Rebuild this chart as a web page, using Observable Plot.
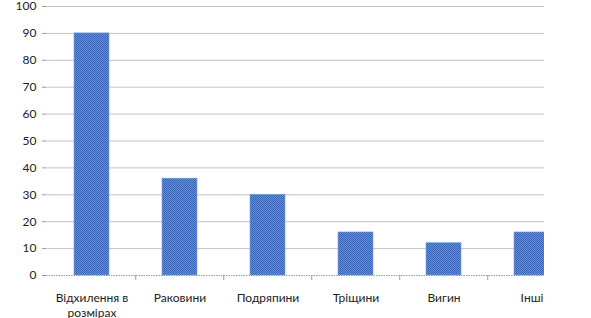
<!DOCTYPE html>
<html>
<head>
<meta charset="utf-8">
<script src="https://cdn.jsdelivr.net/npm/d3@7"></script>
<script src="https://cdn.jsdelivr.net/npm/@observablehq/plot@0.6"></script>
<style>
  html, body { margin: 0; padding: 0; background: #fff; }
  #wrap { width: 544px; height: 318px; overflow: hidden; }
  #wrap svg { display: block; max-width: none !important; width: 591px; height: 318px; overflow: visible; }
</style>
</head>
<body>
<div id="wrap"></div>
<script>
const categories = ["Відхилення в розмірах", "Раковини", "Подряпини", "Тріщини", "Вигин", "Інші"];
const values = [90, 36, 30, 16, 12, 16];
const tickLabels = ["Відхилення в\nрозмірах", "Раковини", "Подряпини", "Тріщини", "Вигин", "Інші"];
const yTicks = [0, 10, 20, 30, 40, 50, 60, 70, 80, 90, 100];

const data = categories.map((c, i) => ({category: c, value: values[i]}));
const labelOf = new Map(categories.map((c, i) => [c, tickLabels[i]]));

const W = 591, H = 318, ML = 46, MR = 14, MT = 6, MB = 43;
const halfStep = (W - ML - MR) / categories.length / 2;

const chart = Plot.plot({
  width: W,
  height: H,
  marginLeft: ML,
  marginRight: MR,
  marginTop: MT,
  marginBottom: MB,
  style: {fontFamily: "Lato, 'Open Sans', sans-serif", fontSize: "12px", color: "#222", background: "#fff", overflow: "visible"},
  x: {domain: categories, paddingInner: 0.6, paddingOuter: 0.3, align: 0.5},
  y: {domain: [0, 100], ticks: yTicks},
  marks: [
    Plot.ruleY(yTicks.filter(d => d > 0), {stroke: "#c4c4c4", strokeWidth: 1}),
    Plot.barY(data, {x: "category", y: "value", fill: "url(#hatch)", stroke: "#6f9ee2", strokeWidth: 0.6}),
    Plot.ruleY([0], {stroke: "#9a9a9a", strokeWidth: 1, strokeDasharray: "1.5,1"}),
    Plot.ruleX([0], {frameAnchor: "left", stroke: "#c4c4c4", strokeWidth: 1.5}),
    Plot.ruleX(categories.slice(1), {x: d => d, dx: -halfStep, y1: 0, y2: 0, insetBottom: -5, stroke: "#9a9a9a"}),
    Plot.axisY({ticks: yTicks, tickSize: 4, tickPadding: 6, stroke: "#9a9a9a", label: null, fill: "#222"}),
    Plot.axisX({tickSize: 0, tickPadding: 16, label: null, tickFormat: d => labelOf.get(d), lineHeight: 1.25, fill: "#222"})
  ]
});

const ns = "http://www.w3.org/2000/svg";
const defs = document.createElementNS(ns, "defs");
defs.innerHTML = `<pattern id="hatch" width="2" height="2" patternUnits="userSpaceOnUse">
  <rect width="2" height="2" fill="#5b8edd"/>
  <rect x="0" y="0" width="1" height="1" fill="#3b67b6"/>
  <rect x="1" y="1" width="1" height="1" fill="#3b67b6"/>
</pattern>`;
chart.insertBefore(defs, chart.firstChild);
document.getElementById("wrap").appendChild(chart);
</script>
</body>
</html>
